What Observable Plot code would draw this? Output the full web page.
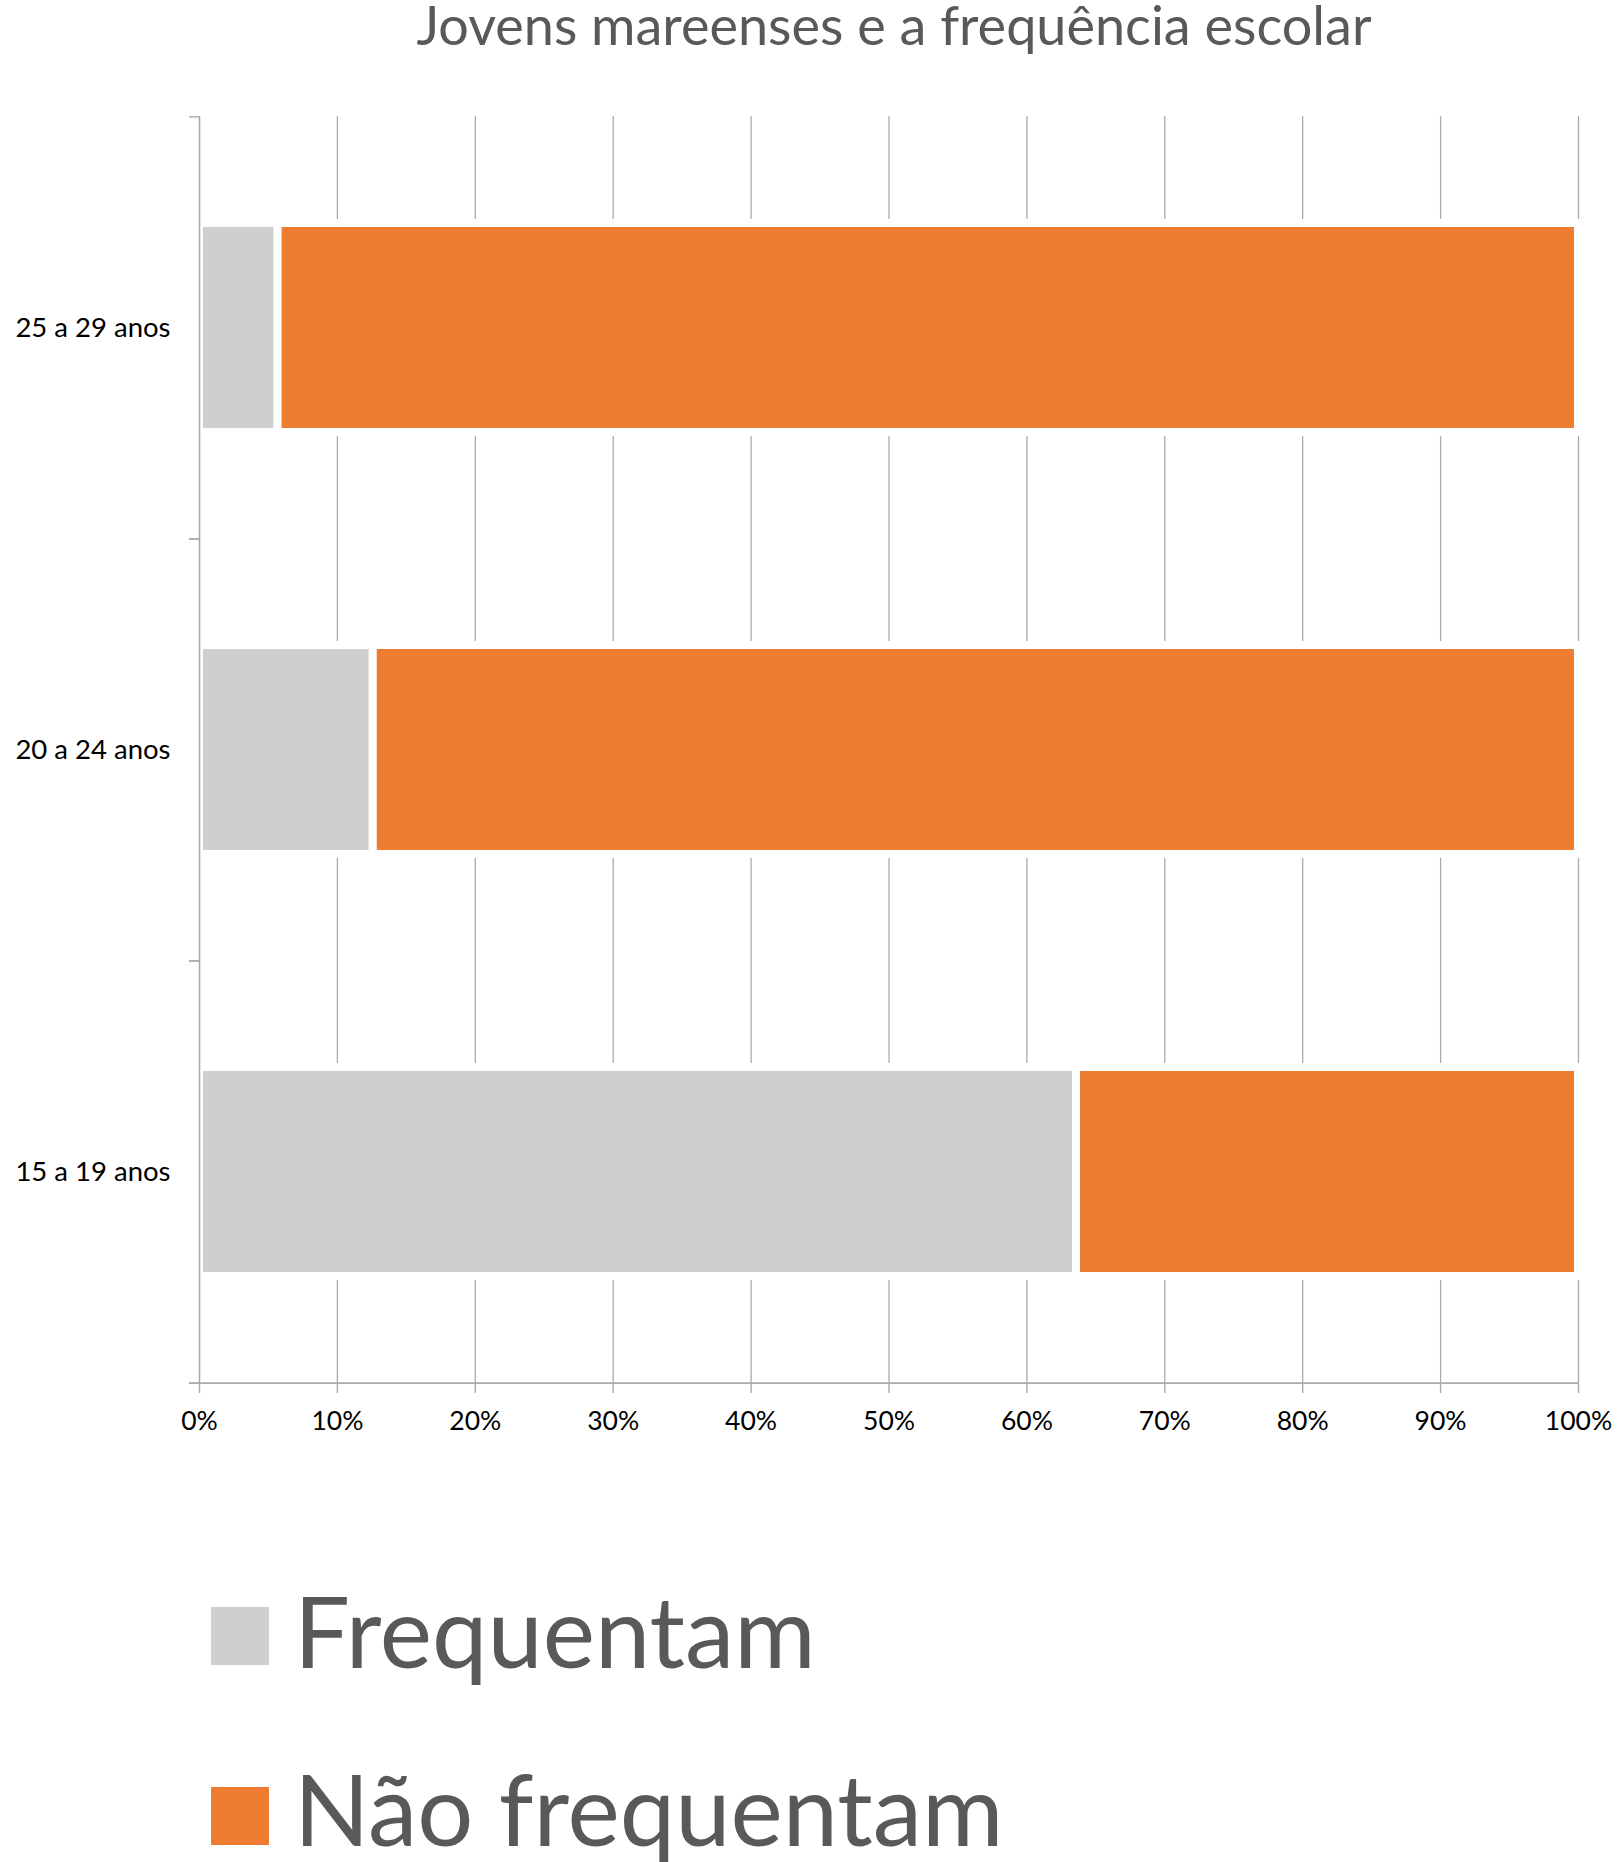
<!DOCTYPE html>
<html>
<head>
<meta charset="utf-8">
<script src="https://cdn.jsdelivr.net/npm/d3@7"></script>
<script src="https://cdn.jsdelivr.net/npm/@observablehq/plot@0.6"></script>
<style>
  html, body { margin: 0; padding: 0; background: #fff; }
  body { width: 1619px; height: 1862px; position: relative; overflow: hidden; font-family: "Lato", "Open Sans", sans-serif; }
  #title { position: absolute; top: 0px; left: 394px; width: 1000px; text-align: center; font-size: 54px; line-height: 50px; color: #595959; white-space: nowrap; }
  #chart { position: absolute; top: 60px; left: 0; }
  .leg { position: absolute; left: 211px; height: 100px; }
  .leg .sw { position: absolute; left: 0; width: 58px; height: 58px; }
  .leg .lab { position: absolute; left: 83px; top: 0; font-size: 99px; line-height: 100px; color: #595959; white-space: nowrap; }
</style>
</head>
<body>
<div id="title">Jovens mareenses e a frequência escolar</div>
<div id="chart"></div>
<div id="legend"></div>
<script>
// ---- data ----
const ageGroups = ["25 a 29 anos", "20 a 24 anos", "15 a 19 anos"];
const seriesNames = ["Frequentam", "Não frequentam"];
const frequentam = [5.7, 12.6, 63.6];
const naoFrequentam = [94.3, 87.4, 36.4];
const xTicks = [0, 10, 20, 30, 40, 50, 60, 70, 80, 90, 100];
const seriesColors = ["#D0CECE", "#ED7D31"];

const data = ageGroups.flatMap((g, i) => [
  {age: g, status: seriesNames[0], value: frequentam[i]},
  {age: g, status: seriesNames[1], value: naoFrequentam[i]}
]);

// ---- layout ----
const W = 1619, H = 1400;
const mT = 56, mB = 77, mL = 199, mR = 41;
const step = (H - mT - mB) / ageGroups.length;
const gridColor = "#ABABAB";

const chart = Plot.plot({
  width: W,
  height: H,
  marginTop: mT,
  marginBottom: mB,
  marginLeft: mL,
  marginRight: mR,
  style: {fontFamily: "Lato, 'Open Sans', sans-serif", background: "#fff", color: "#000"},
  x: {domain: [0, 100], axis: null},
  y: {domain: ageGroups, paddingInner: 0.505, paddingOuter: 0.2525, axis: null},
  color: {domain: seriesNames, range: seriesColors},
  marks: [
    Plot.ruleX(xTicks.slice(1), {stroke: gridColor, strokeWidth: 1.3}),
    Plot.barX(data, {x: "value", y: "age", fill: "status", stroke: "white", strokeWidth: 8}),
    Plot.ruleX([0], {stroke: gridColor, strokeWidth: 1.6}),
    Plot.ruleY([ageGroups[ageGroups.length - 1]], {dy: step / 2, insetLeft: -10, stroke: gridColor, strokeWidth: 1.6}),
    Plot.axisY({tickSize: 10, dy: step / 2, tickFormat: () => "", stroke: gridColor, strokeWidth: 1.4, label: null}),
    Plot.axisY({tickSize: 10, dy: -step / 2, tickFormat: () => "", stroke: gridColor, strokeWidth: 1.4, label: null}),
    Plot.axisY({tickSize: 0, tickPadding: 29, fontSize: 27.5, fill: "#000", label: null}),
    Plot.axisX({ticks: xTicks, tickFormat: d => d + "%", tickSize: 10, tickPadding: 18, fontSize: 26.5, stroke: gridColor, strokeWidth: 1.4, fill: "#000", label: null})
  ]
});
document.getElementById("chart").appendChild(chart);

// ---- legend ----
const legend = document.getElementById("legend");
const legTops = [1580, 1758];
const swatchTops = [1607, 1787];
seriesNames.forEach((name, i) => {
  const item = document.createElement("div");
  item.className = "leg";
  item.style.top = legTops[i] + "px";
  const sw = document.createElement("div");
  sw.className = "sw";
  sw.style.top = (swatchTops[i] - legTops[i]) + "px";
  sw.style.background = seriesColors[i];
  const lab = document.createElement("div");
  lab.className = "lab";
  lab.textContent = name;
  item.appendChild(sw);
  item.appendChild(lab);
  legend.appendChild(item);
});
</script>
</body>
</html>
